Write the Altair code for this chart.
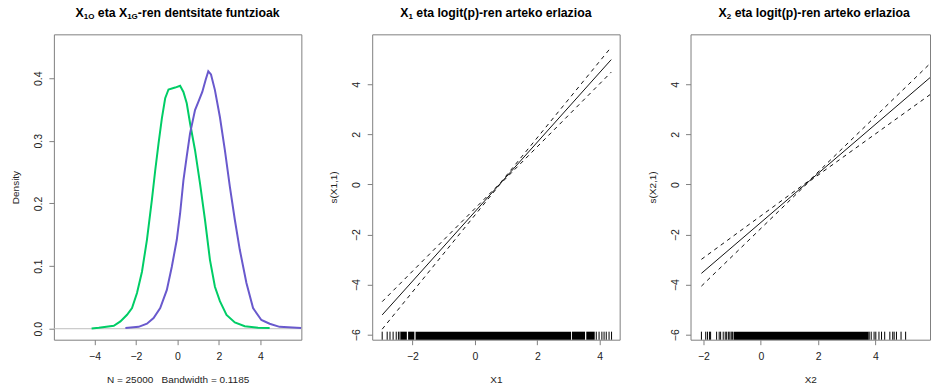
import altair as alt
import pandas as pd

# ---------------- data ----------------
# Panel 1: density curves (X1O green, X1G purple)
dens_O_x = [-4.14, -3.79, -3.07, -2.75, -2.43, -2.19, -1.95, -1.71, -1.47, -1.23, -1.07, -0.91,
            -0.75, -0.59, -0.43, -0.11, 0.13, 0.29, 0.45, 0.61, 0.85, 1.09, 1.33, 1.57, 1.81,
            2.05, 2.37, 2.77, 3.25, 3.89, 4.45]
dens_O_y = [0.0005, 0.0016, 0.0048, 0.0117, 0.0223, 0.033, 0.057, 0.091, 0.142, 0.206, 0.253, 0.296,
            0.336, 0.368, 0.382, 0.385, 0.388, 0.378, 0.360, 0.328, 0.285, 0.232, 0.174, 0.110, 0.067,
            0.044, 0.022, 0.010, 0.004, 0.0016, 0.001]
dens_G_x = [-2.51, -1.87, -1.47, -1.15, -0.83, -0.51, -0.27, -0.03, 0.13, 0.29, 0.45, 0.61, 0.85,
            1.01, 1.20, 1.36, 1.49, 1.62, 1.81, 2.05, 2.29, 2.53, 2.77, 3.01, 3.33, 3.65, 4.05,
            4.45, 4.93, 5.97]
dens_G_y = [0.001, 0.003, 0.008, 0.017, 0.033, 0.062, 0.099, 0.142, 0.184, 0.237, 0.275, 0.312, 0.349,
            0.362, 0.378, 0.397, 0.411, 0.406, 0.381, 0.338, 0.285, 0.227, 0.174, 0.126, 0.073, 0.033,
            0.014, 0.008, 0.003, 0.001]

# Panel 2: s(X1,1) fit with +-2 se bands
x1_pts = [-2.97, 0.80, 4.37]
x1_fit = [-5.21, 0.02, 4.99]
x1_upper = [-4.68, 0.04, 5.49]
x1_lower = [-5.78, 0.00, 4.49]
x1_rug = [-2.97, -2.81, -2.72, -2.62, -2.52, -2.45, -2.40,
          3.89, 3.98, 4.07, 4.14, 4.21, 4.30, 4.38]
x1_dense_from = [-2.38, -2.14, -1.90, 3.11, 3.57]
x1_dense_to = [-2.18, -1.94, 3.08, 3.53, 3.84]

# Panel 3: s(X2,1)
x2_pts = [-2.07, 1.70, 5.90]
x2_fit = [-3.55, 0.15, 4.27]
x2_upper = [-2.99, 0.17, 4.83]
x2_lower = [-4.06, 0.13, 3.59]
x2_rug = [-2.07, -1.92, -1.86, -1.79, -1.75, -1.54, -1.45, -1.40, -1.31, -1.24, -1.19, -1.13,
          -1.08, -1.03, -0.99,
          3.78, 3.85, 3.95, 4.01, 4.12, 4.21, 4.32, 4.50, 4.60, 4.65, 4.73, 4.89, 5.05]
x2_dense_from = [-0.95]
x2_dense_to = [3.76]

titles = [
    [("X", 0), ("1O", 1), (" eta X", 0), ("1G", 1), ("-ren dentsitate funtzioak", 0)],
    [("X", 0), ("1", 1), (" eta logit(p)-ren arteko erlazioa", 0)],
    [("X", 0), ("2", 1), (" eta logit(p)-ren arteko erlazioa", 0)],
]
xlab = ["N = 25000\u00a0\u00a0\u00a0Bandwidth = 0.1185", "X1", "X2"]
ylab = ["Density", "s(X1,1)", "s(X2,1)"]

# ---------------- styling ----------------
FONT = "Liberation Sans"
W, H = 248, 306
W3 = 240
MAIN, SUB = 12.3, 8.0
GREEN = "#00CD66"
PURPLE = "#6959CD"

# Arial/Liberation Sans Bold advance widths (per 1000 em)
BOLD_W = {" ": 278, "(": 333, ")": 333, "-": 333, "1": 556, "2": 556, "G": 778, "O": 778,
          "X": 667, "a": 556, "d": 611, "e": 556, "f": 333, "g": 611, "i": 278, "k": 556,
          "l": 278, "n": 611, "o": 611, "p": 611, "r": 389, "s": 556, "t": 333, "u": 611,
          "z": 500}


def tw(s, size):
    return sum(BOLD_W.get(c, 556) for c in s) * size / 1000.0


def title_layers(segments, center):
    total = sum(tw(s, SUB if sub else MAIN) for s, sub in segments)
    x = center - total / 2
    layers = []
    for s, sub in segments:
        size = SUB if sub else MAIN
        lead = len(s) - len(s.lstrip(" "))
        txt = s.strip(" ")
        xx = x + tw(" " * lead, size)
        layers.append(
            alt.Chart(alt.Data(values=[{}])).mark_text(
                text=txt, align="left", baseline="alphabetic", font=FONT,
                fontSize=size, fontWeight="bold", color="#000000"
            ).encode(x=alt.value(xx), y=alt.value(-17 + (2 if sub else 0)))
        )
        x += tw(s, size)
    return layers


def xaxis(vals, title):
    return alt.Axis(values=vals, title=title, format="d")


# ---------------- panel 1 ----------------
xs1 = alt.Scale(domain=[-5.96, 5.98], nice=False, zero=False)
ys1 = alt.Scale(domain=[-0.0175, 0.47], nice=False, zero=False)
dfO = pd.DataFrame({"x": dens_O_x, "y": dens_O_y})
dfG = pd.DataFrame({"x": dens_G_x, "y": dens_G_y})

base_rule = alt.Chart(alt.Data(values=[{}])).mark_rule(color="#BEBEBE", strokeWidth=1).encode(
    y=alt.datum(0, scale=ys1))
lineO = alt.Chart(dfO).mark_line(color=GREEN, strokeWidth=2).encode(
    x=alt.X("x:Q", scale=xs1, axis=xaxis([-4, -2, 0, 2, 4], xlab[0])),
    y=alt.Y("y:Q", scale=ys1, axis=alt.Axis(values=[0, 0.1, 0.2, 0.3, 0.4], format=".1f", title=ylab[0])))
lineG = alt.Chart(dfG).mark_line(color=PURPLE, strokeWidth=2).encode(x="x:Q", y="y:Q")
p1 = alt.layer(base_rule, lineO, lineG, *title_layers(titles[0], W / 2)).properties(width=W, height=H)


# ---------------- smooth panels ----------------
def smooth_panel(pts, fit, up, lo, rug, dfrom, dto, xdom, xticks, xt, yt, title, width):
    xs = alt.Scale(domain=xdom, nice=False, zero=False)
    ys = alt.Scale(domain=[-6.2, 6.0], nice=False, zero=False)
    df = pd.DataFrame({"x": pts, "fit": fit, "up": up, "lo": lo})
    fitl = alt.Chart(df).mark_line(color="#111111", strokeWidth=1).encode(
        x=alt.X("x:Q", scale=xs, axis=xaxis(xticks, xt)),
        y=alt.Y("fit:Q", scale=ys, axis=alt.Axis(values=[-6, -4, -2, 0, 2, 4], title=yt)))
    upl = alt.Chart(df).mark_line(color="#111111", strokeWidth=1, strokeDash=[4, 4]).encode(
        x="x:Q", y="up:Q")
    lol = alt.Chart(df).mark_line(color="#111111", strokeWidth=1, strokeDash=[4, 4]).encode(
        x="x:Q", y="lo:Q")
    rugdf = pd.DataFrame({"x": rug})
    rugl = alt.Chart(rugdf).mark_rule(color="#000000", strokeWidth=1).encode(
        x="x:Q", y=alt.datum(-6.2), y2=alt.datum(-5.88))
    dense = pd.DataFrame({"a": dfrom, "b": dto})
    densel = alt.Chart(dense).mark_rect(color="#000000").encode(
        x="a:Q", x2="b:Q", y=alt.datum(-6.2), y2=alt.datum(-5.88))
    return alt.layer(fitl, upl, lol, densel, rugl, *title_layers(title, W / 2)).properties(
        width=width, height=H)


p2 = smooth_panel(x1_pts, x1_fit, x1_upper, x1_lower, x1_rug, x1_dense_from, x1_dense_to,
                  [-3.29, 4.64], [-2, 0, 2, 4], xlab[1], ylab[1], titles[1], W)
p3 = smooth_panel(x2_pts, x2_fit, x2_upper, x2_lower, x2_rug, x2_dense_from, x2_dense_to,
                  [-2.45, 5.9], [-2, 0, 2, 4], xlab[2], ylab[2], titles[2], W3)

chart = alt.hconcat(p1, p2, p3, spacing=71, bounds="flush").properties(
    padding={"left": 10, "top": 6, "right": 0, "bottom": 4},
    background="white",
).configure_view(
    stroke="#808080", strokeWidth=1
).configure_axis(
    grid=False, domain=False, tickColor="#808080", tickSize=5,
    labelFont=FONT, labelFontSize=10.5, labelColor="#222222",
    titleFont=FONT, titleFontSize=10, titleFontWeight="normal", titleColor="#222222",
).configure_axisLeft(
    labelAngle=270, labelAlign="center", labelBaseline="bottom", labelPadding=5.5,
    titlePadding=13,
).configure_axisBottom(
    labelPadding=7, titlePadding=12,
)

chart.save("out.html", embed_options={"renderer": "svg", "actions": False})
